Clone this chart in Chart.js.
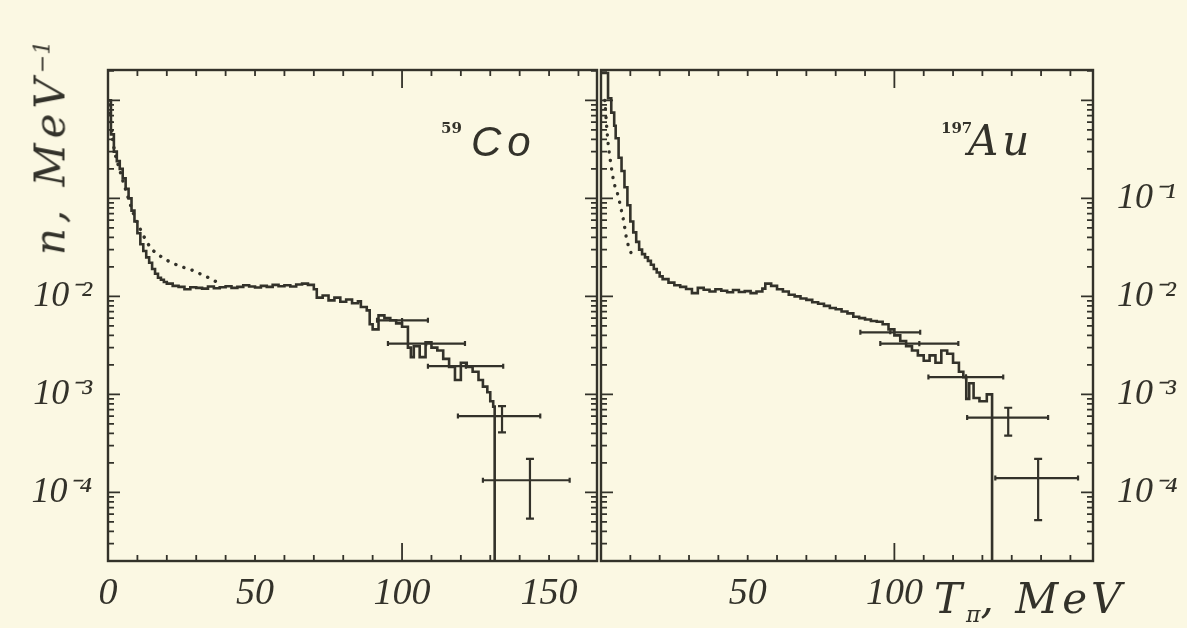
<!DOCTYPE html>
<html><head><meta charset="utf-8">
<script src="https://cdn.jsdelivr.net/npm/chart.js@4.4.1/dist/chart.umd.min.js"></script>
<style>
html,body{margin:0;padding:0;background:#fbf8e3;}
#wrap{position:relative;width:1187px;height:628px;overflow:hidden;background:#fbf8e3;}
canvas{position:absolute;left:0;top:0;}
.lbl{position:absolute;color:#33322a;white-space:nowrap;line-height:1;}
</style></head><body>
<div id="wrap">
<canvas id="c1" width="1187" height="628"></canvas>
<canvas id="c2" width="1187" height="628"></canvas>
<div class="lbl" style="left:50px;top:148px;transform:translate(-50%,-50%) rotate(-90deg);font:italic 42px 'DejaVu Serif';letter-spacing:5px;">n,&nbsp;MeV<sup style="font-size:22px;letter-spacing:0">−1</sup></div>
<div class="lbl" style="left:441px;top:119px;font:bold 15px 'DejaVu Serif';">59</div>
<div class="lbl" style="left:471px;top:118px;font:italic 42px 'Liberation Sans';letter-spacing:6px;">Co</div>
<div class="lbl" style="left:941px;top:119px;font:bold 15px 'DejaVu Serif';">197</div>
<div class="lbl" style="left:968px;top:116px;font:italic 42px 'DejaVu Serif';letter-spacing:4px;">Au</div>
<div class="lbl" style="left:934px;top:574px;font:italic 42px 'DejaVu Serif';letter-spacing:4px;">T<sub style="font-size:22px;letter-spacing:0">π</sub>,&nbsp;MeV</div>
</div>
<script>
// ---------------- data ----------------
const INK = '#33322a';
const xTickLabelsCo = [0, 50, 100, 150];
const xTickLabelsAu = [50, 100];
const yTickLabelsLeft = [1e-4, 1e-3, 1e-2];
const yTickLabelsRight = [1e-4, 1e-3, 1e-2, 1e-1];

// 59Co, solid histogram (bin left edge T, MeV ; n, MeV^-1)
const coSolidT = [0,1,2,3,4,5,6,7,8,9,10,11,12,13,14,15,16,17,18,19,20,
  22,24,26,28,30,32,34,36,38,40,42,44,46,48,50,52,54,56,58,60,62,64,66,68,70,
  71,73,75,77,79,81,83,85,86,88,89,90,92,94,96,98,100,102,
  103,104,106,108,110,112,114,116,118,120,122,124,126,127.5,129,130,131,131.5];
const coSolidN = [1.0,0.45,0.3,0.24,0.2,0.16,0.125,0.1,0.075,0.058,0.044,0.034,0.029,0.025,0.022,0.019,0.017,0.0155,0.0148,0.014,0.0135,
  0.0128,0.0125,0.0118,0.0124,0.0122,0.012,0.0126,0.0121,0.0124,0.0127,0.0122,0.0125,0.013,0.0126,0.0123,0.0128,0.0125,0.0131,0.0127,0.013,0.0126,0.0132,0.0135,0.0131,0.0118,
  0.0097,0.0102,0.0091,0.0097,0.0088,0.0093,0.0085,0.0089,0.0078,0.0072,0.0052,0.0046,0.0064,0.006,0.0057,0.0053,0.0049,0.003,
  0.0024,0.0031,0.0024,0.0034,0.003,0.0028,0.0023,0.0019,0.0014,0.0021,0.0019,0.0017,0.0014,0.0012,0.00105,0.00085,0.00075,1e-9];
// 59Co, dotted curve
const coDotT = [0.5,1.7,4.1,6.5,8.5,10.9,14.3,18.4,21.8,25.2,28.6,31.3,34,37];
const coDotN = [0.9,0.38,0.19,0.11,0.072,0.049,0.032,0.025,0.022,0.02,0.0185,0.017,0.0156,0.014];
// 59Co, experimental points with errors
const coExpT   = [100, 108.2, 121.7, 134, 143.5];
const coExpTLo = [91.5, 95.2, 108.8, 119, 127.5];
const coExpTHi = [108.8, 121.4, 134.4, 147, 157];
const coExpN   = [0.0057, 0.0033, 0.00194, 0.0006, 0.000133];
const coExpNLo = [0.0054, 0.0031, 0.00183, 0.00041, 0.000054];
const coExpNHi = [0.006, 0.0035, 0.00206, 0.00076, 0.00022];

// 197Au, solid histogram
const auSolidT = [0,2.4,3.5,4.5,5,6,7,8,9,10,11,12,13,14,15,16,17,18,19,20,21,
  23,25,27,29,31,33,35,37,39,41,43,45,47,49,51,53,55,56,
  58,60,62,64,66,68,70,72,74,76,78,80,82,84,86,88,90,92,94,96,98,100,102,104,106,108,110,112,114,116,118,120,122,
  123.5,124.5,125.5,127,129,131.5,133.3];
const auSolidN = [1.9,1.05,0.75,0.55,0.41,0.26,0.19,0.13,0.085,0.058,0.045,0.036,0.03,0.027,0.025,0.023,0.021,0.019,0.0175,0.016,0.015,
  0.0138,0.013,0.0125,0.0119,0.0108,0.0122,0.0117,0.0112,0.0118,0.0114,0.011,0.0116,0.0111,0.0113,0.0108,0.0112,0.012,0.0135,
  0.0128,0.0118,0.0112,0.0104,0.01,0.0095,0.0092,0.0087,0.0084,0.008,0.0076,0.0074,0.007,0.0067,0.0062,0.006,0.0058,0.0056,0.0055,0.0052,0.0046,0.004,0.0035,0.0031,0.0028,0.0025,0.0022,0.0025,0.0021,0.0028,0.0026,0.0021,0.0017,
  0.0015,0.0009,0.0013,0.00092,0.00085,0.001,1e-9];
// 197Au, dotted curve
const auDotT = [1.3,2.3,3.4,4.4,5.8,6.8,7.8,8.5,9.5,10.9,12];
const auDotN = [1.0,0.4,0.22,0.146,0.107,0.079,0.057,0.042,0.0316,0.026,0.025];
// 197Au, experimental points with errors
const auExpT   = [98.6, 108.5, 124.4, 138.8, 149];
const auExpTLo = [88.4, 95.2, 111.6, 124.8, 134.4];
const auExpTHi = [108.8, 121.8, 137.1, 152.4, 162.6];
const auExpN   = [0.0043, 0.0033, 0.0015, 0.00058, 0.00014];
const auExpNLo = [0.0041, 0.0031, 0.0014, 0.00038, 0.000052];
const auExpNHi = [0.0045, 0.0035, 0.0016, 0.00073, 0.00022];

const Y_MIN = 1.995e-5, Y_MAX = 2.04;
// ---------------- helpers ----------------
const zip = (xs, ys) => xs.map((x, i) => ({x, y: ys[i]}));
const sup = {'-1':'⁻¹','-2':'⁻²','-3':'⁻³','-4':'⁻⁴'};
const fmtPow = v => '10' + sup[String(Math.round(Math.log10(v)))];

const frameTicks = {
  id: 'frameTicks',
  afterDatasetsDraw(chart) {
    const {ctx, chartArea: a} = chart;
    const x = chart.scales.x, y = chart.scales.y;
    ctx.save();
    ctx.strokeStyle = INK;
    // error bars
    chart.data.datasets.forEach(ds => {
      if (!ds.errors) return;
      const e = ds.errors;
      ctx.lineWidth = 2.2;
      ctx.beginPath();
      ds.data.forEach((p, i) => {
        const cx = x.getPixelForValue(p.x), cy = y.getPixelForValue(p.y);
        const xl = x.getPixelForValue(e.xlo[i]), xr = x.getPixelForValue(e.xhi[i]);
        const yt = y.getPixelForValue(e.yhi[i]), yb = y.getPixelForValue(e.ylo[i]);
        ctx.moveTo(xl, cy); ctx.lineTo(xr, cy);
        ctx.moveTo(xl, cy - 2.5); ctx.lineTo(xl, cy + 2.5);
        ctx.moveTo(xr, cy - 2.5); ctx.lineTo(xr, cy + 2.5);
        ctx.moveTo(cx, yt); ctx.lineTo(cx, yb);
        if (yb - yt > 8) {
          ctx.moveTo(cx - 4, yt); ctx.lineTo(cx + 4, yt);
          ctx.moveTo(cx - 4, yb); ctx.lineTo(cx + 4, yb);
        }
      });
      ctx.stroke();
    });
    // frame
    ctx.lineWidth = 2.4;
    ctx.strokeRect(a.left, a.top, a.right - a.left, a.bottom - a.top);
    // ticks
    ctx.lineWidth = 1.8;
    ctx.beginPath();
    for (let t = 10; t < x.max; t += 10) {
      const px = x.getPixelForValue(t);
      const len = t === 100 ? 18 : 6;
      ctx.moveTo(px, a.bottom); ctx.lineTo(px, a.bottom - len);
      ctx.moveTo(px, a.top); ctx.lineTo(px, a.top + len);
    }
    for (let d = -5; d <= 0; d++) {
      for (let m = 1; m <= 9; m++) {
        const v = m * Math.pow(10, d);
        if (v < y.min || v > y.max) continue;
        const py = y.getPixelForValue(v);
        const len = m === 1 ? 12 : 6;
        ctx.moveTo(a.left, py); ctx.lineTo(a.left + len, py);
        ctx.moveTo(a.right, py); ctx.lineTo(a.right - len, py);
      }
    }
    ctx.stroke();
    ctx.restore();
  }
};

function datasets(solidT, solidN, dotT, dotN, eT, eTLo, eTHi, eN, eNLo, eNHi) {
  return [
    {label: 'solid', data: zip(solidT, solidN), stepped: true, borderColor: INK, borderWidth: 2.6,
     pointRadius: 0, fill: false},
    {label: 'dotted', data: zip(dotT, dotN), borderColor: INK, borderWidth: 3.4, borderDash: [0.1, 8.5],
     borderCapStyle: 'round', cubicInterpolationMode: 'monotone', pointRadius: 0, fill: false},
    {label: 'exp', data: zip(eT, eN), showLine: false, pointRadius: 0, borderColor: INK,
     errors: {xlo: eTLo, xhi: eTHi, ylo: eNLo, yhi: eNHi}}
  ];
}

const tickFont = {family: "'Liberation Serif'", size: 38, style: 'italic'};
const yFont = {family: "'Liberation Serif'", size: 36, style: 'italic'};

function xScale(max, labels) {
  return {
    type: 'linear', min: 0, max: max, position: 'bottom',
    grid: {display: false, drawTicks: false}, border: {display: false},
    ticks: {font: tickFont, color: INK, padding: 10, maxRotation: 0, autoSkip: false},
    afterBuildTicks: s => { s.ticks = labels.map(v => ({value: v})); },
    afterFit: s => { s.height = 628 - 561; }
  };
}
function yScale(pos, labels, width, pad, show) {
  return {
    type: 'logarithmic', min: Y_MIN, max: Y_MAX, position: pos, display: show,
    grid: {display: false, drawTicks: false}, border: {display: false},
    ticks: {font: yFont, color: INK, padding: pad, autoSkip: false, callback: v => fmtPow(v)},
    afterBuildTicks: s => { s.ticks = labels.map(v => ({value: v})); },
    afterFit: s => { s.width = width; }
  };
}

const common = {responsive: false, animation: false, devicePixelRatio: 1,
  plugins: {legend: {display: false}, tooltip: {enabled: false}}};

new Chart(document.getElementById('c1'), {
  type: 'line',
  data: {datasets: datasets(coSolidT, coSolidN, coDotT, coDotN, coExpT, coExpTLo, coExpTHi, coExpN, coExpNLo, coExpNHi)},
  options: Object.assign({}, common, {
    layout: {padding: {top: 70, right: 590, bottom: 0, left: 0}},
    scales: {x: xScale(166.3, xTickLabelsCo), y: yScale('left', yTickLabelsLeft, 108, 16, true)}
  }),
  plugins: [frameTicks]
});

new Chart(document.getElementById('c2'), {
  type: 'line',
  data: {datasets: datasets(auSolidT, auSolidN, auDotT, auDotN, auExpT, auExpTLo, auExpTHi, auExpN, auExpNLo, auExpNHi)},
  options: Object.assign({}, common, {
    layout: {padding: {top: 70, right: 0, bottom: 0, left: 601}},
    scales: {
      x: xScale(167.7, xTickLabelsAu),
      y: yScale('left', yTickLabelsRight, 0, 10, false),
      y2: yScale('right', yTickLabelsRight, 94, 24, true)
    }
  }),
  plugins: [frameTicks]
});
</script>
</body></html>
